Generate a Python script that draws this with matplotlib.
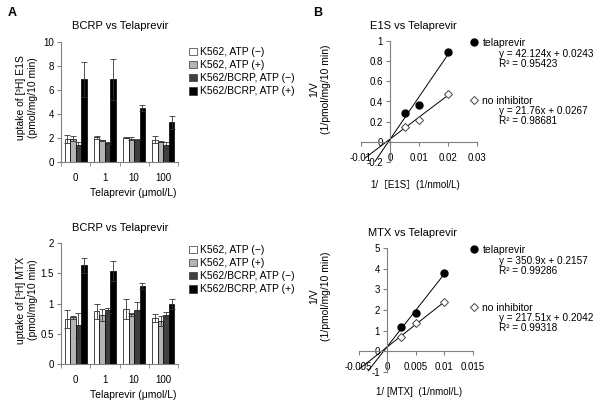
import numpy as np
import matplotlib
matplotlib.use("Agg")
from matplotlib import pyplot as plt
from matplotlib.patches import Patch
from matplotlib.lines import Line2D
from matplotlib.ticker import FuncFormatter

plt.rcParams['font.family'] = ['Liberation Sans', 'Noto Sans CJK JP', 'DejaVu Sans']

# --- data (A: uptake bars) ---
doses = ['0', '1', '10', '100']
groups = ['K562, ATP (\u2212)', 'K562, ATP (+)', 'K562/BCRP, ATP (\u2212)', 'K562/BCRP, ATP (+)']
bar_colors = ['white', '#b4b4b4', '#404040', 'black']

e1s_mean = [[1.9, 2.05, 2.02, 1.85],
            [1.95, 1.82, 1.95, 1.68],
            [1.4, 1.55, 1.85, 1.4],
            [6.9, 6.88, 4.5, 3.3]]
e1s_err = [[0.35, 0.15, 0.05, 0.3],
           [0.2, 0.05, 0.15, 0.05],
           [0.25, 0.08, 0.05, 0.3],
           [1.47, 1.72, 0.25, 0.55]]

mtx_mean = [[0.74, 0.87, 0.91, 0.76],
            [0.77, 0.81, 0.82, 0.71],
            [0.64, 0.89, 0.89, 0.81],
            [1.63, 1.54, 1.29, 0.99]]
mtx_err = [[0.15, 0.12, 0.16, 0.07],
           [0.03, 0.1, 0.03, 0.09],
           [0.21, 0.04, 0.13, 0.05],
           [0.13, 0.17, 0.05, 0.08]]

# --- data (B: Lineweaver-Burk) ---
e1s_x = [0.005, 0.01, 0.02]
e1s_tel = [0.29, 0.37, 0.89]
e1s_noinh = [0.15, 0.22, 0.47]
e1s_slope = [42.124, 21.76]
e1s_icpt = [0.0243, 0.0267]
e1s_r2 = [0.95423, 0.98681]
e1s_line_start = [-0.0052, -0.0085]

mtx_x = [0.0025, 0.005, 0.01]
mtx_tel = [1.19, 1.86, 3.78]
mtx_noinh = [0.71, 1.38, 2.37]
mtx_slope = [350.9, 217.51]
mtx_icpt = [0.2157, 0.2042]
mtx_r2 = [0.99286, 0.99318]
mtx_line_start = [-0.0033, -0.0052]

W, H = 600, 409
fig = plt.figure(figsize=(6.0, 4.09), dpi=100)


def px_axes(l, t, r, b):
    return fig.add_axes([l / W, 1 - b / H, (r - l) / W, (b - t) / H])


gfmt = FuncFormatter(lambda v, p: '{:g}'.format(round(v, 6)))
spine_c = '#808080'
fs = 7


def bar_panel(ax, mean, err, ymax, ystep, title, ylab, title_y, ylab_y, leg_y):
    x = np.arange(len(doses))
    w = 0.19
    for i in range(4):
        ax.bar(x + (i - 1.5) * w, mean[i], w, yerr=err[i], color=bar_colors[i],
               edgecolor='black', linewidth=0.5,
               error_kw=dict(ecolor='#333333', elinewidth=0.6, capsize=2, capthick=0.6))
    ax.set_xlim(-0.5, 3.5)
    ax.set_ylim(0, ymax)
    ax.set_yticks(np.arange(0, ymax + ystep / 2, ystep))
    ax.yaxis.set_major_formatter(gfmt)
    ax.set_xticks(x)
    ax.set_xticklabels(doses)
    ax.set_xticks(np.arange(-0.5, 4, 1), minor=True)
    ax.tick_params(axis='x', which='major', length=0, labelsize=fs, pad=8)
    ax.tick_params(axis='x', which='minor', length=3, color=spine_c, direction='out')
    ax.tick_params(axis='y', length=3, color=spine_c, labelsize=fs, pad=2)
    for s in ['top', 'right']:
        ax.spines[s].set_visible(False)
    for s in ['left', 'bottom']:
        ax.spines[s].set_color(spine_c)
        ax.spines[s].set_linewidth(0.8)
    fig.text(120 / W, 1 - title_y / H, title, ha='center', va='center', fontsize=8)
    fig.text(27 / W, 1 - ylab_y / H, ylab, ha='center', va='center', rotation=90,
             fontsize=7.5, linespacing=1.15)
    fig.text(133 / W, 1 - (title_y + 167) / H, 'Telaprevir (\u03bcmol/L)', ha='center',
             va='center', fontsize=7.5)
    handles = [Patch(facecolor=c, edgecolor='#333333', linewidth=0.5) for c in bar_colors]
    ax.legend(handles, groups, loc='upper left', bbox_to_anchor=(189 / W, 1 - leg_y / H),
              bbox_transform=fig.transFigure, frameon=False, fontsize=7.5,
              handlelength=0.75, handleheight=0.75, handletextpad=0.3,
              labelspacing=0.3, borderpad=0, borderaxespad=0)


def lb_panel(ax, xs, tel, noinh, slope, icpt, r2, starts, xlim, xstep, ylim, ystep,
             title, xlab, xlab_x, top):
    for st, k in [(starts[0], 0), (starts[1], 1)]:
        xl = np.array([st, max(xs)])
        ax.plot(xl, slope[k] * xl + icpt[k], color='black', lw=0.7)
    ax.plot(xs, tel, 'o', color='black', ms=5, zorder=3)
    ax.plot(xs, noinh, 'D', mfc='white', mec='#444444', mew=0.7, ms=4, zorder=3)
    ax.set_xlim(*xlim)
    ax.set_ylim(*ylim)
    ax.set_xticks(np.arange(xlim[0], xlim[1] + xstep / 2, xstep))
    ax.set_yticks(np.arange(ylim[0], ylim[1] + ystep / 2, ystep))
    ax.xaxis.set_major_formatter(gfmt)
    ax.yaxis.set_major_formatter(gfmt)
    ax.spines['left'].set_position(('data', 0))
    ax.spines['bottom'].set_position(('data', 0))
    for s in ['top', 'right']:
        ax.spines[s].set_visible(False)
    for s in ['left', 'bottom']:
        ax.spines[s].set_color(spine_c)
        ax.spines[s].set_linewidth(0.8)
    ax.tick_params(length=3, color=spine_c, labelsize=fs, pad=2)
    ax.tick_params(axis='x', pad=5)
    ax.patch.set_alpha(0)
    fig.text(413 / W, 1 - (top - 15) / H, title, ha='center', va='center', fontsize=8)
    fig.text(320 / W, 1 - (top + 48) / H, '1/V\n(1/pmol/mg/10 min)', ha='center',
             va='center', rotation=90, fontsize=7.5, linespacing=1.15)
    fig.text(xlab_x / W, 1 - (top + 144) / H, xlab, ha='center', va='center', fontsize=7)
    handles = [Line2D([], [], ls='none', marker='o', color='black', ms=5),
               Line2D([], [], ls='none', marker='D', mfc='white', mec='#444444',
                      mew=0.7, ms=4)]
    ax.legend(handles, ['telaprevir', 'no inhibitor'], loc='upper left',
              bbox_to_anchor=(470 / W, 1 - (top - 3) / H), bbox_transform=fig.transFigure,
              frameon=False, fontsize=7.5, handlelength=0.8, handletextpad=0.4,
              labelspacing=4.6, borderpad=0, borderaxespad=0)
    for k, dy in [(0, 0), (1, 57)]:
        fig.text(499 / W, 1 - (top + 13 + dy) / H,
                 'y = {:g}x + {:g}'.format(slope[k], icpt[k]), ha='left', va='center',
                 fontsize=7.2)
        fig.text(499 / W, 1 - (top + 23 + dy) / H, 'R\u00b2 = {:g}'.format(r2[k]),
                 ha='left', va='center', fontsize=7.2)


ax1 = px_axes(61, 42, 178, 162)
bar_panel(ax1, e1s_mean, e1s_err, 10, 2, 'BCRP vs Telaprevir',
          'uptake of [\u00b3H] E1S\n(pmol/mg/10 min)', 26, 98, 47)

ax2 = px_axes(61, 243, 178, 364)
bar_panel(ax2, mtx_mean, mtx_err, 2, 0.5, 'BCRP vs Telaprevir',
          'uptake of [\u00b3H] MTX\n(pmol/mg/10 min)', 228, 300, 245)

ax3 = px_axes(361, 41, 477, 162)
lb_panel(ax3, e1s_x, e1s_tel, e1s_noinh, e1s_slope, e1s_icpt, e1s_r2, e1s_line_start,
         (-0.01, 0.03), 0.01, (-0.2, 1.0), 0.2, 'E1S vs Telaprevir',
         '1/\uff3bE1S\uff3d(1/nmol/L)', 415, 41)

ax4 = px_axes(358.5, 248, 472.5, 372)
lb_panel(ax4, mtx_x, mtx_tel, mtx_noinh, mtx_slope, mtx_icpt, mtx_r2, mtx_line_start,
         (-0.005, 0.015), 0.005, (-1, 5), 1, 'MTX vs Telaprevir',
         '1/ [MTX]  (1/nmol/L)', 419, 248)

fig.text(8 / W, 1 - 13 / H, 'A', fontsize=9, fontweight='bold', ha='left', va='center')
fig.text(313 / W, 1 - 13 / H, 'B', fontsize=9, fontweight='bold', ha='left', va='center')

fig.savefig('out.png', dpi=100)
